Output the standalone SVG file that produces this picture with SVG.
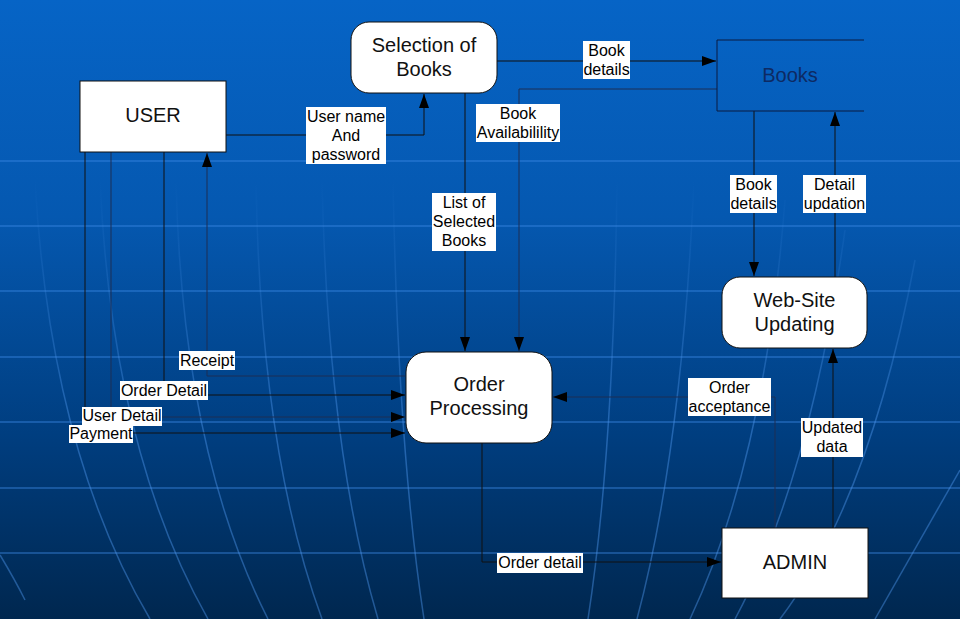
<svg xmlns="http://www.w3.org/2000/svg" width="960" height="619" viewBox="0 0 960 619">
<defs>
<linearGradient id="bg" x1="0" y1="0" x2="0" y2="1">
<stop offset="0" stop-color="#0664c6"/>
<stop offset="0.35" stop-color="#0558b0"/>
<stop offset="0.7" stop-color="#003e80"/>
<stop offset="1" stop-color="#00274f"/>
</linearGradient>
<linearGradient id="fade" gradientUnits="userSpaceOnUse" x1="0" y1="180" x2="0" y2="420">
<stop offset="0" stop-color="#4c94ea" stop-opacity="0"/>
<stop offset="1" stop-color="#4c94ea" stop-opacity="0.45"/>
</linearGradient>
<marker id="arr" viewBox="0 0 14 10" refX="14" refY="5" markerWidth="14" markerHeight="10" markerUnits="userSpaceOnUse" orient="auto">
<path d="M0,0 L14,5 L0,10 Z" fill="#000"/>
</marker>
<style>
.node{fill:#fff;stroke:#111;stroke-width:1}
.nt{font-family:"Liberation Sans",Arial,sans-serif;font-size:20px;fill:#111;text-anchor:middle;dominant-baseline:central}
.lb{fill:#fff}
.lt{font-family:"Liberation Sans",Arial,sans-serif;font-size:16px;fill:#000;text-anchor:middle;dominant-baseline:central}
.c{fill:none;stroke:#111;stroke-width:1}
.cf{fill:none;stroke:#1d2f55;stroke-width:1}
.gl{stroke:#3c8ae6;stroke-width:2;opacity:0.4;fill:none}
.gc{stroke:url(#fade);stroke-width:1.5;fill:none}
</style>
</defs>
<rect x="0" y="0" width="960" height="619" fill="url(#bg)"/>
<g id="background-grid">
<line class="gl" x1="0" y1="161" x2="960" y2="161"/>
<line class="gl" x1="0" y1="226" x2="960" y2="226"/>
<line class="gl" x1="0" y1="291" x2="960" y2="291"/>
<line class="gl" x1="0" y1="357" x2="960" y2="357"/>
<line class="gl" x1="0" y1="422" x2="960" y2="422" opacity="0.15"/>
<line class="gl" x1="0" y1="488" x2="960" y2="488" opacity="0.15"/>
<line class="gl" x1="0" y1="553" x2="960" y2="553"/>
<path class="gc" d="M35,180 Q50,450 150,619"/>
<path class="gc" d="M100,180 Q112,450 208,619"/>
<path class="gc" d="M176,180 Q182,450 268,619"/>
<path class="gc" d="M256,180 Q260,450 322,619"/>
<path class="gc" d="M322,180 Q328,450 378,619"/>
<path class="gc" d="M393,180 Q398,450 424,619"/>
<path class="gc" d="M617,180 Q614,450 588,619"/>
<path class="gc" d="M694,180 Q682,450 637,619"/>
<path class="gc" d="M785,200 Q765,460 690,619"/>
<path class="gc" d="M845,230 Q810,480 735,619"/>
<path class="gc" d="M915,260 Q870,500 780,619"/>
<path class="gc" d="M960,470 Q920,540 875,619"/>
<path class="gc" d="M0,555 Q15,580 25,600"/>
</g>
<g id="connectors">
<path class="c" d="M226,135 H424 V94" marker-end="url(#arr)"/>
<path class="c" d="M497,61 H716" marker-end="url(#arr)"/>
<path class="cf" d="M717,89 H519 V351" marker-end="url(#arr)"/>
<path class="c" d="M465,93 V351" marker-end="url(#arr)"/>
<path class="c" d="M754,111 V276" marker-end="url(#arr)"/>
<path class="c" d="M835,277 V112" marker-end="url(#arr)"/>
<path class="c" d="M833,528 V349" marker-end="url(#arr)"/>
<path class="cf" d="M775,528 V397 H553" marker-end="url(#arr)"/>
<path class="c" d="M482,443 V562 H721" marker-end="url(#arr)"/>
<path class="cf" d="M405,376 H207 V153" marker-end="url(#arr)"/>
<path class="c" d="M164,152 V395 H405" marker-end="url(#arr)"/>
<path class="cf" d="M111,152 V417 H405" marker-end="url(#arr)" stroke="#5a7aa8"/>
<path class="c" d="M85,152 V433 H405" marker-end="url(#arr)"/>
</g>
<g id="labels">
<rect class="lb" x="306" y="107" width="80" height="57"/>
<text class="lt" x="346" y="116">User name</text>
<text class="lt" x="346" y="135">And</text>
<text class="lt" x="346" y="154">password</text>
<rect class="lb" x="583" y="41" width="47" height="38"/>
<text class="lt" x="606.5" y="50">Book</text>
<text class="lt" x="606.5" y="69">details</text>
<rect class="lb" x="476" y="104" width="84" height="38"/>
<text class="lt" x="518" y="113">Book</text>
<text class="lt" x="518" y="132">Availabilility</text>
<rect class="lb" x="432" y="193" width="64" height="58"/>
<text class="lt" x="464" y="202">List of</text>
<text class="lt" x="464" y="221">Selected</text>
<text class="lt" x="464" y="240">Books</text>
<rect class="lb" x="730" y="175" width="47" height="38"/>
<text class="lt" x="753.5" y="184">Book</text>
<text class="lt" x="753.5" y="203">details</text>
<rect class="lb" x="803" y="175" width="63" height="38"/>
<text class="lt" x="834.5" y="184">Detail</text>
<text class="lt" x="834.5" y="203">updation</text>
<rect class="lb" x="801" y="418" width="62" height="39"/>
<text class="lt" x="832" y="427">Updated</text>
<text class="lt" x="832" y="446">data</text>
<rect class="lb" x="688" y="378" width="83" height="38"/>
<text class="lt" x="729.5" y="387">Order</text>
<text class="lt" x="729.5" y="406">acceptance</text>
<rect class="lb" x="497" y="553" width="86" height="20"/>
<text class="lt" x="540" y="562">Order detail</text>
<rect class="lb" x="179" y="351" width="56" height="19"/>
<text class="lt" x="207" y="360">Receipt</text>
<rect class="lb" x="120" y="381" width="88" height="19"/>
<text class="lt" x="164" y="390">Order Detail</text>
<rect class="lb" x="82" y="407" width="80" height="19"/>
<text class="lt" x="122" y="415">User Detail</text>
<rect class="lb" x="69" y="425" width="64" height="18"/>
<text class="lt" x="101" y="433">Payment</text>
</g>
<g id="user">
<rect class="node" x="80" y="81" width="146" height="71"/>
<text class="nt" x="153" y="115">USER</text>
</g>
<g id="selection-of-books">
<rect class="node" x="351" y="22" width="146" height="71" rx="18"/>
<text class="nt" x="424" y="45">Selection of</text>
<text class="nt" x="424" y="69">Books</text>
</g>
<g id="books">
<path d="M864,40 H717 V111 H864" fill="none" stroke="#0a1a40" stroke-width="1"/>
<text class="nt" x="790" y="75" style="fill:#0d2a63">Books</text>
</g>
<g id="web-site-updating">
<rect class="node" x="722" y="277" width="145" height="71" rx="18"/>
<text class="nt" x="794.5" y="300">Web-Site</text>
<text class="nt" x="794.5" y="324">Updating</text>
</g>
<g id="order-processing">
<rect class="node" x="406" y="352" width="146" height="91" rx="20"/>
<text class="nt" x="479" y="384">Order</text>
<text class="nt" x="479" y="408">Processing</text>
</g>
<g id="admin">
<rect class="node" x="722" y="528" width="146" height="70"/>
<text class="nt" x="795" y="562">ADMIN</text>
</g>
</svg>
